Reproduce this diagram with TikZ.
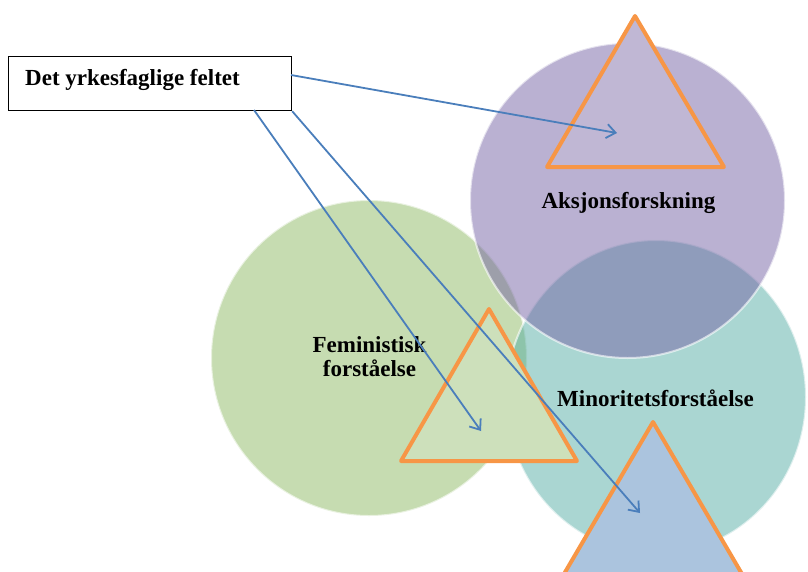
\documentclass[tikz,border=0pt]{standalone}
\usepackage{fontspec}
\setmainfont{Liberation Serif}
\usetikzlibrary{arrows.meta}

\definecolor{greenfill}{HTML}{C6DCB1}
\definecolor{tealfill}{HTML}{55ADA5}
\definecolor{purplefill}{HTML}{7563A5}
\definecolor{trioutline}{HTML}{F79646}
\definecolor{tritop}{HTML}{C0B7D4}
\definecolor{trimid}{HTML}{CDE0BB}
\definecolor{tribot}{HTML}{ABC4DE}
\definecolor{linkblue}{HTML}{4A7EBB}

\tikzset{
  venn/.style={draw=white, draw opacity=0.6, line width=2pt},
  tri/.style={draw=trioutline, line width=4pt, line join=round},
  lbl/.style={font=\bfseries\fontsize{23}{24}\selectfont, inner sep=0pt},
  titlebox/.style={draw=black, line width=1.2pt, fill=white, inner sep=0pt,
    minimum width=283pt, minimum height=54pt, anchor=north west},
  link/.style={draw=linkblue, line width=1.8pt,
    -{Straight Barb[length=9pt,width=14pt]}}
}

\begin{document}
\begin{tikzpicture}[x=1pt,y=-1pt]
  \useasboundingbox (0,0) rectangle (808,571);
  \clip (0,0) rectangle (808,571);

  % three overlapping circles
  \fill[greenfill] (369,358) circle [radius=158];
  \draw[venn] (369,358) circle [radius=158];
  \fill[tealfill, fill opacity=0.5] (656,397) ellipse [x radius=150, y radius=157];
  \draw[venn] (656,397) ellipse [x radius=150, y radius=157];
  \fill[purplefill, fill opacity=0.5] (627.5,200.5) circle [radius=157.5];
  \draw[venn] (627.5,200.5) circle [radius=157.5];

  % triangles
  \filldraw[tri, fill=tritop] (635,16) -- (724,167) -- (547,167) -- cycle;
  \filldraw[tri, fill=trimid] (489,309) -- (577,461) -- (401,461) -- cycle;
  \filldraw[tri, fill=tribot] (653,422) -- (742,574) -- (564,574) -- cycle;

  % circle labels
  \node[lbl, anchor=base] (aksjon) at (628.5,208) {Aksjonsforskning};
  \node[lbl, align=center] (feminist) at (369.5,357) {Feministisk\\forståelse};
  \node[lbl, anchor=base] (minoritet) at (655.5,406) {Minoritetsforståelse};

  % title box
  \node[titlebox] (box) at (8,56) {};
  \node[lbl, anchor=base west] (boxtext) at (25,85) {Det yrkesfaglige feltet};

  % arrow ends
  \coordinate (startA) at (291,75);
  \coordinate (startB) at (254,110);
  \coordinate (tipA) at (617,133);
  \coordinate (tipB) at (481,431);
  \coordinate (tipC) at (640,513);

  % connectors
  \draw[link] (startA) -- (tipA);
  \draw[link] (startB) -- (tipB);
  \draw[link] (box.south east) -- (tipC);
\end{tikzpicture}
\end{document}
